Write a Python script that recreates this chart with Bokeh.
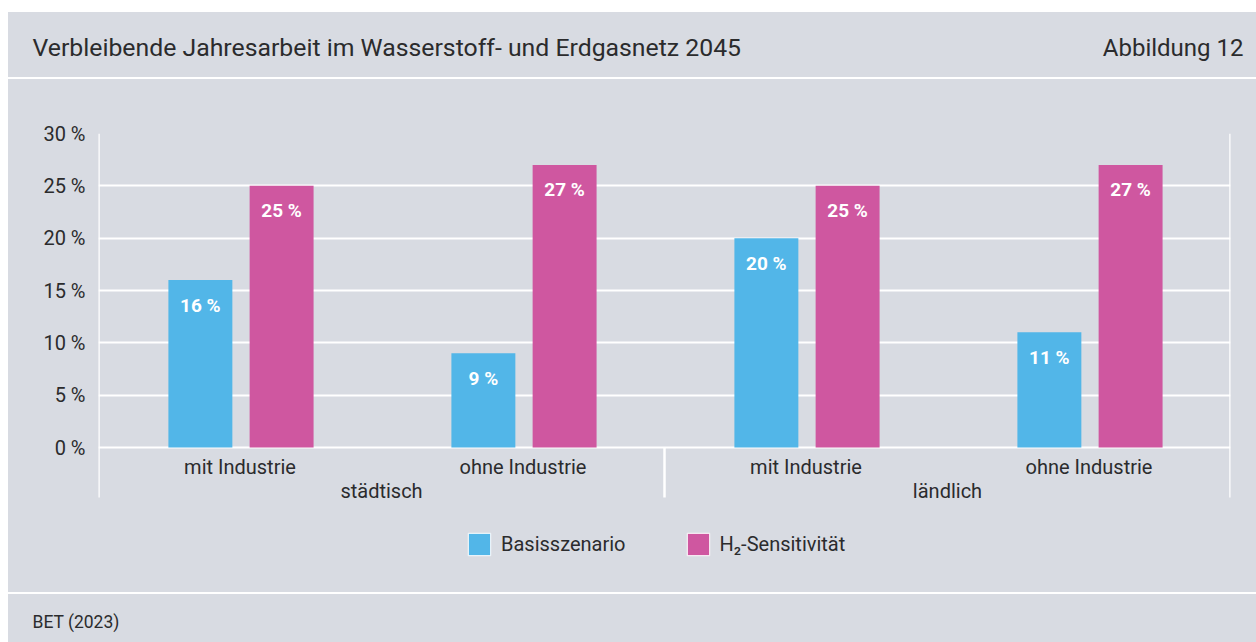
from bokeh.plotting import figure
from bokeh.models import (ColumnDataSource, FactorRange, Range1d, LabelSet, Label,
                          Legend, LegendItem, PrintfTickFormatter, FixedTicker, Spacer)
from bokeh.layouts import column, row
from bokeh.transform import dodge
from bokeh.core.properties import value
from bokeh.embed import file_html
from bokeh.resources import INLINE

# ---- data ----
groups = ["städtisch", "städtisch", "ländlich", "ländlich"]
subcats = ["mit Industrie", "ohne Industrie", "mit Industrie", "ohne Industrie"]
basis = [16, 9, 20, 11]
h2 = [25, 27, 25, 27]
series_names = ["Basisszenario", "H₂-Sensitivität"]
yticks = [0, 5, 10, 15, 20, 25, 30]
title_text = "Verbleibende Jahresarbeit im Wasserstoff- und Erdgasnetz 2045"
figure_no = "Abbildung 12"
source_text = "BET (2023)"

# ---- style ----
BG = "#d8dbe2"
BLUE = "#52b6e8"
MAGENTA = "#cf57a0"
TXT = "#2b2b2d"
FONT = "Roboto"
W = 1248


def panel(height):
    f = figure(width=W, height=height, x_range=Range1d(0, W), y_range=Range1d(0, height),
               output_backend="svg", toolbar_location=None, min_border=0,
               x_axis_location=None, y_axis_location=None, frame_align=False,
               styles={"background-color": BG})
    f.background_fill_color = BG
    f.border_fill_color = BG
    f.outline_line_color = None
    f.grid.grid_line_color = None
    return f


# ---- header ----
hdr = panel(65)
hdr.add_layout(Label(x=24, y=30, text=title_text, text_font=FONT, text_font_size="24.8px",
                     text_color=TXT, text_baseline="middle", text_align="left"))
hdr.add_layout(Label(x=1235, y=30, text=figure_no, text_font=FONT, text_font_size="24px",
                     text_color=TXT, text_baseline="middle", text_align="right"))

# ---- footer ----
ftr = panel(48)
ftr.add_layout(Label(x=24, y=21, text=source_text, text_font=FONT, text_font_size="17.5px",
                     text_color=TXT, text_baseline="middle", text_align="left"))

# ---- main chart ----
MH = 513
TOP, LEFT, RIGHT = 54, 90, 26
PLOT_PX = 314                     # pixel height of 0..30 %
YMAX = yticks[-1]
PPU = PLOT_PX / YMAX               # pixels per percent
YMIN = -(MH - TOP - PLOT_PX) / PPU  # frame extends below 0 for labels + legend


def below(px):
    return -px / PPU


factors = list(zip(groups, subcats))
src = ColumnDataSource(dict(
    x=factors, basis=basis, h2=h2,
    basis_lbl=[f"{v} %" for v in basis],
    h2_lbl=[f"{v} %" for v in h2],
    sub=subcats,
))

p = figure(width=W, height=MH,
           x_range=FactorRange(*factors, factor_padding=0, group_padding=0, range_padding=0),
           y_range=Range1d(YMIN, YMAX),
           output_backend="svg", toolbar_location=None, frame_align=False,
           min_border_left=LEFT, min_border_right=RIGHT, min_border_top=TOP, min_border_bottom=0,
           x_axis_location=None, styles={"background-color": BG})
p.background_fill_color = BG
p.border_fill_color = BG
p.outline_line_color = None

OFF_B, OFF_H, BW = -0.14, 0.147, 0.226
p.vbar(x=dodge("x", OFF_B, range=p.x_range), top="basis", width=BW, source=src,
       fill_color=BLUE, line_color=None)
p.vbar(x=dodge("x", OFF_H, range=p.x_range), top="h2", width=BW, source=src,
       fill_color=MAGENTA, line_color=None)

for col, lbl, off in (("basis", "basis_lbl", OFF_B), ("h2", "h2_lbl", OFF_H)):
    p.add_layout(LabelSet(x=dodge("x", off, range=p.x_range), y=col, text=lbl, source=src,
                          y_offset=-25, text_align="center", text_baseline="middle",
                          text_color="white", text_font=value(FONT), text_font_size="19px",
                          text_font_style="bold"))

# y axis
p.yaxis.ticker = FixedTicker(ticks=yticks)
p.yaxis.formatter = PrintfTickFormatter(format="%d %%")
p.yaxis.major_label_text_font = FONT
p.yaxis.major_label_text_font_size = "20px"
p.yaxis.major_label_text_color = TXT
p.yaxis.major_tick_out = 0
p.yaxis.major_tick_in = 0
p.yaxis.major_label_standoff = 13
p.yaxis.axis_line_color = None
p.yaxis.minor_tick_line_color = None

p.xgrid.grid_line_color = None
p.ygrid.ticker = FixedTicker(ticks=yticks)
p.ygrid.grid_line_color = "white"
p.ygrid.grid_line_width = 2

# frame / group separator lines
group_names = list(dict.fromkeys(groups))
bounds = [0]
for g in group_names:
    bounds.append(bounds[-1] + groups.count(g))
sep_bottom = below(50)
seg = ColumnDataSource(dict(
    x=bounds,
    y0=[sep_bottom] * len(bounds),
    y1=[YMAX if b in (bounds[0], bounds[-1]) else 0 for b in bounds],
))
p.segment(x0="x", y0="y0", x1="x", y1="y1", source=seg, line_color="white", line_width=2.5)

# category labels
p.text(x="x", y=below(19), text="sub", source=src, text_font=value(FONT),
       text_font_size="20px", text_color=TXT, text_align="center", text_baseline="middle")
gsrc = ColumnDataSource(dict(x=group_names, t=group_names))
p.text(x="x", y=below(43), text="t", source=gsrc, text_font=value(FONT),
       text_font_size="20px", text_color=TXT, text_align="center", text_baseline="middle")

# legend (swatch renderers sit hidden on the white 0 % line)
sw = ColumnDataSource(dict(x=[bounds[0]], top=[0]))
lb = p.vbar(x="x", top="top", width=0.001, source=sw, fill_color=BLUE,
            line_color="white", line_width=1)
lh = p.vbar(x="x", top="top", width=0.001, source=sw, fill_color=MAGENTA,
            line_color="white", line_width=1)
legend = Legend(items=[LegendItem(label=series_names[0], renderers=[lb]),
                       LegendItem(label=series_names[1], renderers=[lh])],
                orientation="horizontal", location=(367, 34),
                glyph_width=28, glyph_height=28, label_height=28, label_standoff=8,
                spacing=58, padding=0, margin=0, border_line_color=None,
                background_fill_alpha=0, label_text_font=FONT, label_text_font_size="20px",
                label_text_font_style="normal",
                label_text_color=TXT, label_text_baseline="middle")
p.add_layout(legend)

layout = row(Spacer(width=8, height=642),
             column(Spacer(width=W, height=12), hdr, Spacer(width=W, height=2), p,
                    Spacer(width=W, height=2), ftr))
open("out.html", "w").write(file_html(layout, INLINE))
